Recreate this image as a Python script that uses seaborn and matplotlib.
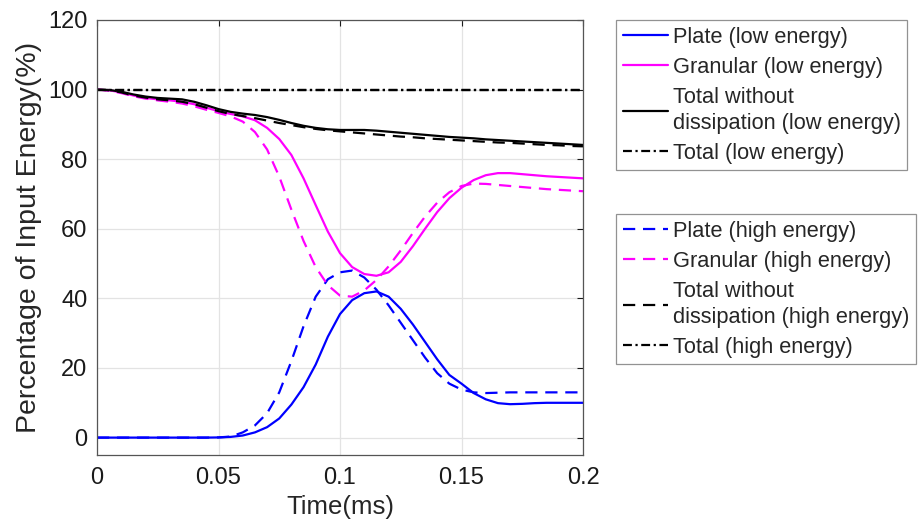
import numpy as np
import pandas as pd
import seaborn as sns
import matplotlib.pyplot as plt

# czas (ms), odczyt co 0.005
czas = np.round(np.arange(0, 0.2001, 0.005), 3)

plate_low = [0, 0, 0, 0, 0, 0, 0, 0, 0, 0, 0.05,
             0.2, 0.6, 1.5, 3, 5.5, 9.5, 14.5, 21, 29, 35.5,
             39.5, 41.5, 42, 40.5, 37, 32.5, 27.5, 22.5, 18, 15.5,
             12.8, 11, 9.9, 9.6, 9.7, 9.9, 10, 10, 10, 10]
plate_high = [0, 0, 0, 0, 0, 0, 0, 0, 0, 0, 0.05,
              0.3, 1.5, 3.5, 7, 13, 22, 32, 40.5, 45.5, 47.5,
              48, 46, 42.5, 38, 33, 28, 23, 18.5, 15.5, 13.8,
              13, 12.8, 12.9, 13, 13, 13, 13, 13, 13, 13]
granular_low = [100, 99.8, 99.2, 98.3, 97.6, 97.2, 96.9, 96.5, 95.8, 94.8, 93.8,
                93.0, 92.3, 91.2, 89, 85.8, 81.2, 74.5, 66.8, 59.2, 53,
                49, 47, 46.5, 47.5, 50.5, 55, 60, 64.8, 68.8, 71.8,
                74, 75.4, 76, 76, 75.7, 75.4, 75.1, 74.9, 74.7, 74.5]
granular_high = [100, 99.7, 99, 98.1, 97.4, 96.9, 96.5, 96, 95.2, 94.2, 93.3,
                 92.3, 90.8, 87.8, 82.8, 75, 65.5, 56.5, 49, 43.8, 40.8,
                 40.5, 42.3, 45.3, 49.2, 53.8, 58.8, 63.5, 67.5, 70.5, 72.3,
                 73, 72.9, 72.6, 72.3, 72, 71.7, 71.4, 71.2, 71, 70.8]
bez_dyss_low = [100, 99.9, 99.4, 98.6, 98, 97.6, 97.4, 97.2, 96.5, 95.5, 94.4,
                93.6, 93.1, 92.7, 92.1, 91.3, 90.4, 89.6, 89.0, 88.6, 88.4,
                88.4, 88.4, 88.2, 87.9, 87.6, 87.3, 87.0, 86.7, 86.4, 86.2,
                86.0, 85.7, 85.5, 85.3, 85.1, 84.9, 84.7, 84.5, 84.3, 84.1]
bez_dyss_high = [100, 99.8, 99.2, 98.3, 97.7, 97.2, 96.9, 96.5, 95.8, 94.8, 93.8,
                 93.0, 92.4, 91.8, 91.1, 90.4, 89.8, 89.2, 88.7, 88.3, 88.0,
                 87.7, 87.4, 87.1, 86.8, 86.5, 86.3, 86.0, 85.8, 85.6, 85.4,
                 85.2, 85.0, 84.8, 84.7, 84.5, 84.3, 84.1, 84.0, 83.8, 83.7]
total_low = [100] * len(czas)
total_high = [100] * len(czas)

etykiety_low = ["Plate (low energy)", "Granular (low energy)",
                "Total without\ndissipation (low energy)", "Total (low energy)"]
etykiety_high = ["Plate (high energy)", "Granular (high energy)",
                 "Total without\ndissipation (high energy)", "Total (high energy)"]

sns.set_theme(style="white")
plt.rcParams['font.family'] = ['Liberation Sans', 'DejaVu Sans']

fig = plt.figure(figsize=(9.24, 5.31), dpi=100)
ax = fig.add_axes([97 / 924, 76 / 531, 486 / 924, 435 / 531])

KRESKA = (5.5, 3.5)
KROPKA = (4, 1.6, 1, 1.6)
LW = 1.6

serie = [
    (plate_low, "#0000ff", "-"),
    (granular_low, "#ff00ff", "-"),
    (bez_dyss_low, "black", "-"),
    (total_low, "black", KROPKA),
    (plate_high, "#0000ff", KRESKA),
    (granular_high, "#ff00ff", KRESKA),
    (bez_dyss_high, "black", KRESKA),
    (total_high, "black", KROPKA),
]

uchwyty = []
for wartosci, kolor, styl in serie:
    df = pd.DataFrame({"t": czas, "e": wartosci})
    sns.lineplot(data=df, x="t", y="e", ax=ax, color=kolor, lw=LW)
    linia = ax.get_lines()[-1]
    if styl != "-":
        linia.set_dashes(styl)
    uchwyty.append(linia)

ax.set_xlim(0, 0.2)
ax.set_ylim(-5, 120)
ax.set_xticks([0, 0.05, 0.1, 0.15, 0.2])
ax.set_xticklabels(["0", "0.05", "0.1", "0.15", "0.2"])
ax.set_yticks([0, 20, 40, 60, 80, 100, 120])
ax.grid(True, color="#e3e3e3", lw=0.9)
ax.tick_params(direction="in", length=4, width=0.8, colors="#1a1a1a",
               labelsize=17, top=True, right=True)
ax.tick_params(axis="x", pad=9)
ax.tick_params(axis="y", pad=7)
for s in ax.spines.values():
    s.set_color("#555555")
    s.set_linewidth(0.9)

ax.set_xlabel("Time(ms)", fontsize=18.5, labelpad=4)
ax.set_ylabel("Percentage of Input Energy(%)", fontsize=20.5, labelpad=4)

wspolne = dict(loc="upper left", frameon=True, fancybox=False, fontsize=15.7,
               edgecolor="#777777", handlelength=2.1, handletextpad=0.2,
               labelspacing=0.42, borderpad=0.3, borderaxespad=0)
l1 = fig.legend(uchwyty[:4], etykiety_low, bbox_to_anchor=(616 / 924, 1 - 20 / 531), **wspolne)
l2 = fig.legend(uchwyty[4:], etykiety_high, bbox_to_anchor=(616 / 924, 1 - 214 / 531), **wspolne)
for l in (l1, l2):
    l.get_frame().set_linewidth(0.9)
    for t in l.get_texts():
        t.set_linespacing(1.3)

fig.savefig("out.png", dpi=100)
